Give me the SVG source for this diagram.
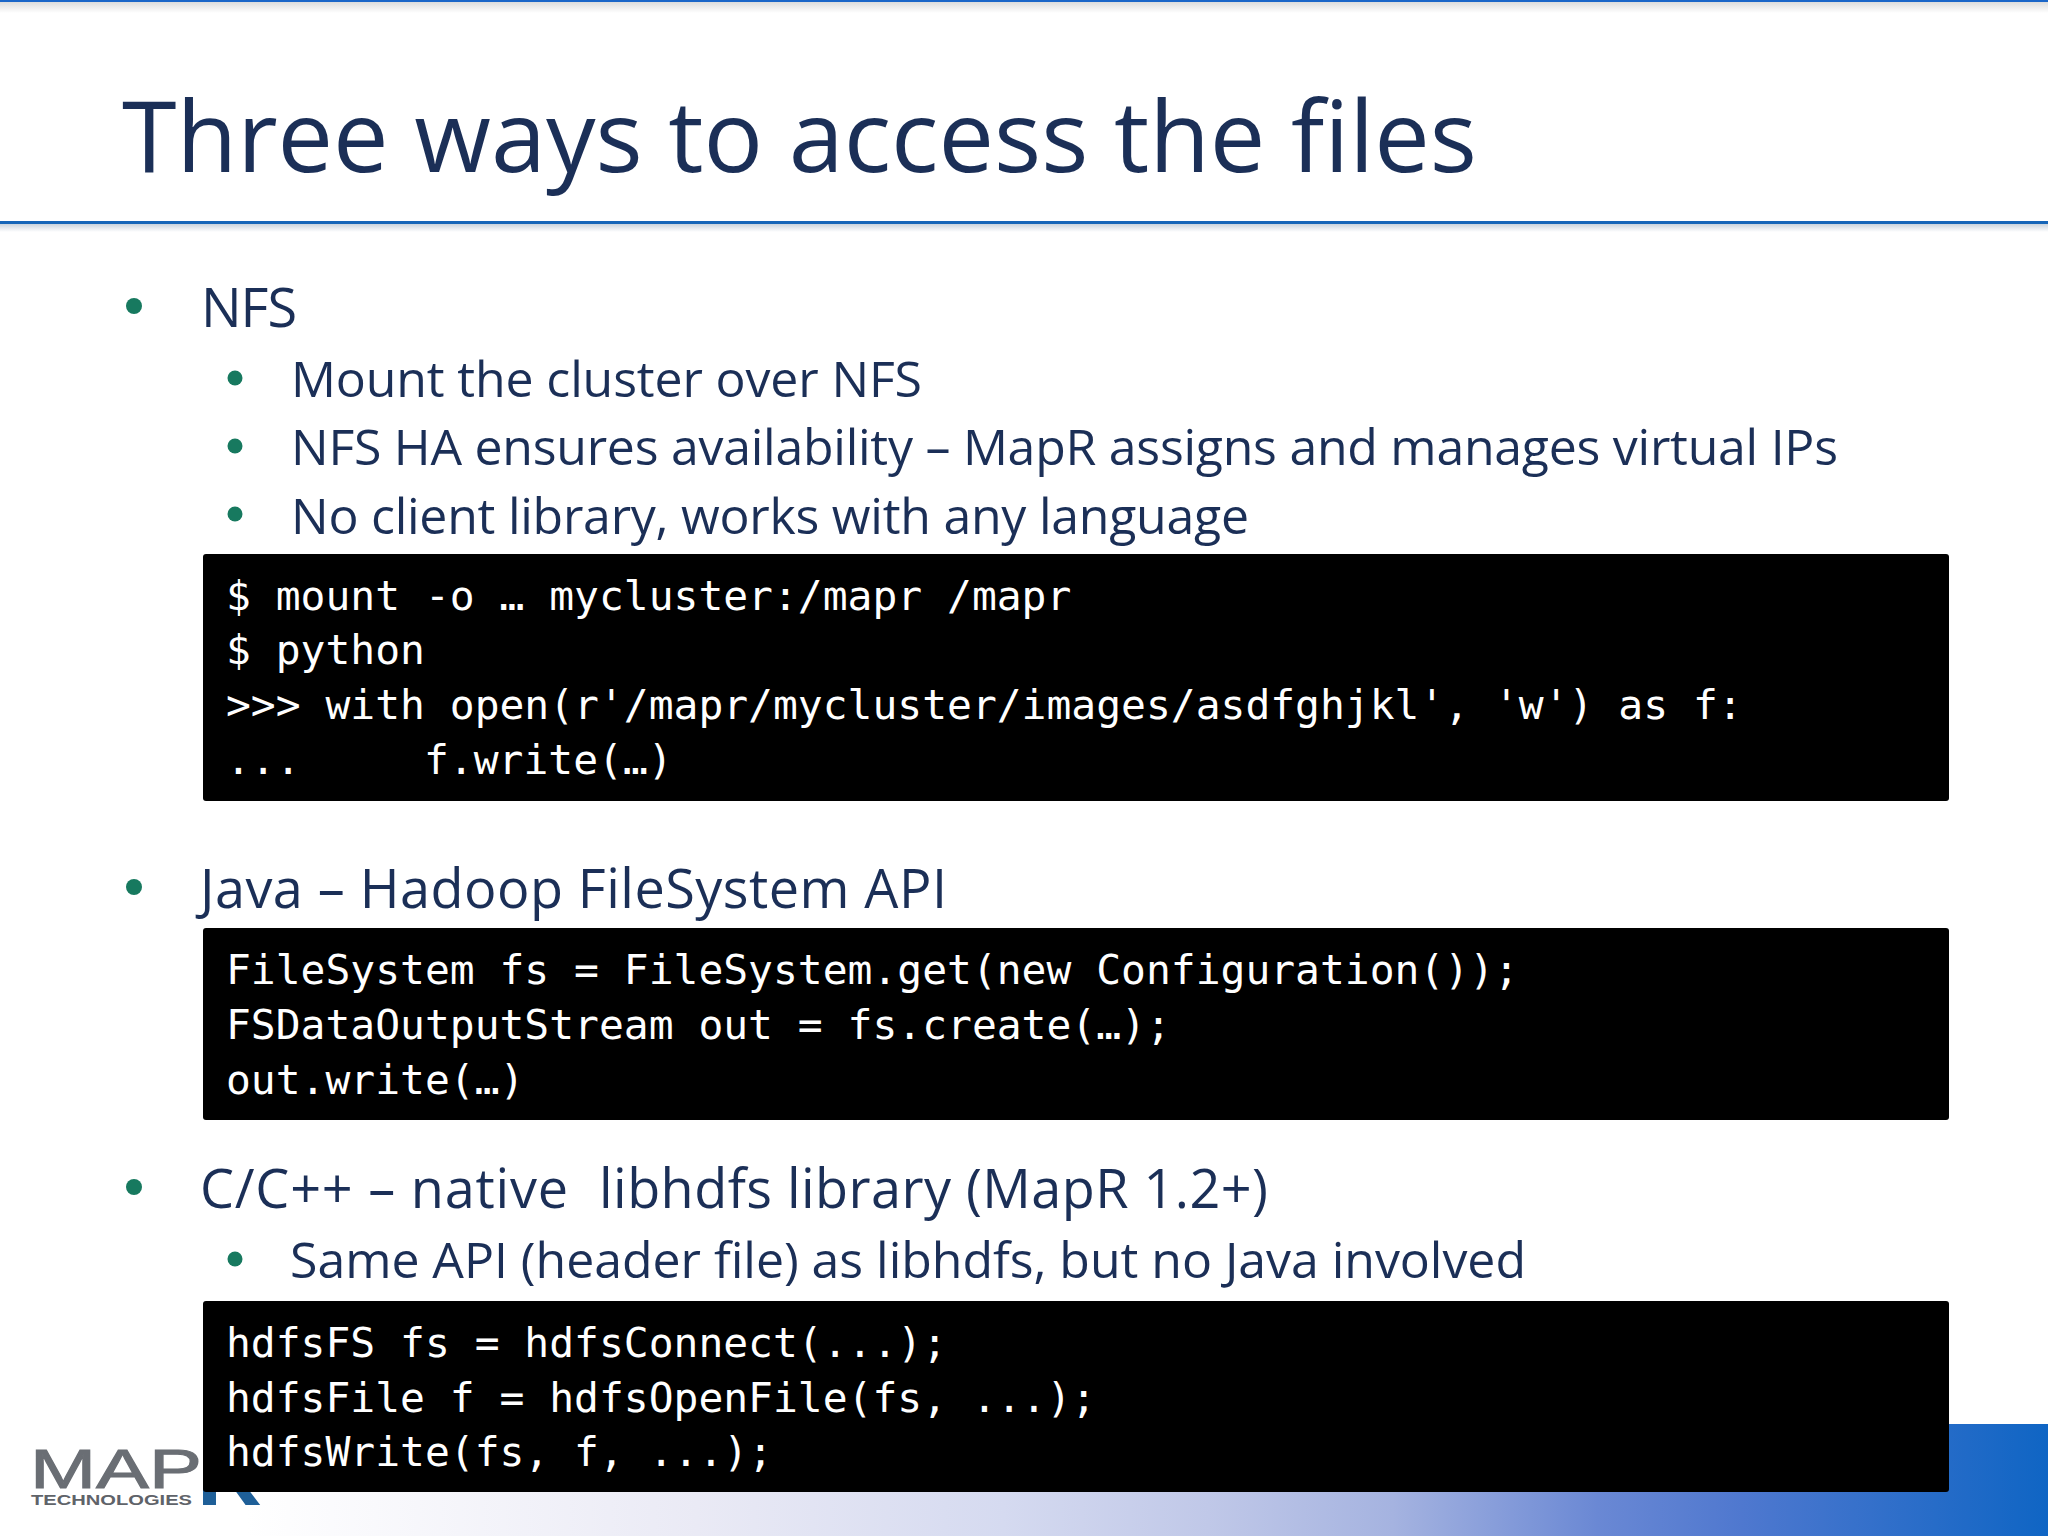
<svg xmlns="http://www.w3.org/2000/svg" width="2048" height="1536" viewBox="0 0 2048 1536">
<defs><linearGradient id="g" x1="0" x2="1" y1="0" y2="0"><stop offset="0" stop-color="#fff"/><stop offset="0.12" stop-color="#fff"/><stop offset="0.34" stop-color="#eaeaf5"/><stop offset="0.49" stop-color="#d5daf0"/><stop offset="0.59" stop-color="#c0c8e8"/><stop offset="0.68" stop-color="#a5b3e0"/><stop offset="0.78" stop-color="#6a88d4"/><stop offset="0.85" stop-color="#4f78cf"/><stop offset="1" stop-color="#0f65c4"/></linearGradient>
<linearGradient id="s" x1="0" x2="0" y1="0" y2="1"><stop offset="0" stop-color="#c9d3dd"/><stop offset="1" stop-color="#fff"/></linearGradient>
<linearGradient id="s2" x1="0" x2="0" y1="0" y2="1"><stop offset="0" stop-color="#dcdcdc"/><stop offset="1" stop-color="#fff"/></linearGradient></defs>
<style>
.t{font-family:"Open Sans","Noto Sans",sans-serif;fill:#1b2f57}
.b{fill:#17795f}
.l1{font-size:54px}.l2{font-size:50px}
.c{font-family:"DejaVu Sans Mono","Liberation Mono",monospace;font-size:41.3px;fill:#fff}
</style>
<rect width="2048" height="1536" fill="#fff"/>
<rect x="0" y="2" width="2048" height="11" fill="url(#s2)"/>
<rect x="0" y="0" width="2048" height="2" fill="#1a66c8"/>
<rect x="0" y="224" width="2048" height="8" fill="url(#s)"/>
<rect x="0" y="221" width="2048" height="3" fill="#1565b8"/>
<rect x="0" y="1424" width="2048" height="112" fill="url(#g)"/>
<text class="t" x="122" y="172" font-size="99" textLength="1355" font-weight="500">Three ways to access the files</text>
<g class="b"><circle cx="134" cy="306" r="8"/><circle cx="235" cy="378" r="7.5"/><circle cx="235" cy="446" r="7.5"/><circle cx="235" cy="514" r="7.5"/><circle cx="134" cy="887" r="8"/><circle cx="134" cy="1187" r="8"/><circle cx="235" cy="1259" r="7.5"/></g>
<text class="t l1" x="201" y="327" textLength="96">NFS</text>
<text class="t l2" x="291" y="397" textLength="631">Mount the cluster over NFS</text>
<text class="t l2" x="291" y="465" textLength="1547">NFS HA ensures availability – MapR assigns and manages virtual IPs</text>
<text class="t l2" x="291" y="534" textLength="958">No client library, works with any language</text>
<text class="t l1" x="200" y="908" textLength="747">Java – Hadoop FileSystem API</text>
<text class="t l1" x="200" y="1208" textLength="368">C/C++ – native</text>
<text class="t l1" x="599" y="1208" textLength="669">libhdfs library (MapR 1.2+)</text>
<text class="t l2" x="290" y="1278" textLength="1236">Same API (header file) as libhdfs, but no Java involved</text>
<g id="logo"><text x="30" y="1488" font-family="Liberation Sans,sans-serif" font-size="56" fill="#6a6e74" stroke="#6a6e74" stroke-width="1" textLength="172" lengthAdjust="spacingAndGlyphs">MAP</text><text x="197" y="1505" font-family="Liberation Sans,sans-serif" font-weight="700" font-size="76" fill="#1e5f98" textLength="65" lengthAdjust="spacingAndGlyphs">R</text><text x="31" y="1505" font-family="Liberation Sans,sans-serif" font-weight="700" font-size="15" fill="#5f6369" textLength="161" lengthAdjust="spacingAndGlyphs">TECHNOLOGIES</text></g>
<rect x="203" y="554" width="1746" height="247" rx="3" fill="#000"/>
<rect x="203" y="928" width="1746" height="192" rx="3" fill="#000"/>
<rect x="203" y="1301" width="1746" height="191" rx="3" fill="#000"/>
<g class="c">
<text x="226" y="610">$ mount -o … mycluster:/mapr /mapr</text>
<text x="226" y="664">$ python</text>
<text x="226" y="719">&gt;&gt;&gt; with open(r'/mapr/mycluster/images/asdfghjkl', 'w') as f:</text>
<text x="226" y="774">...</text>
<text x="424" y="774">f.write(…)</text>
<text x="226" y="984">FileSystem fs = FileSystem.get(new Configuration());</text>
<text x="226" y="1039">FSDataOutputStream out = fs.create(…);</text>
<text x="226" y="1094">out.write(…)</text>
<text x="226" y="1357">hdfsFS fs = hdfsConnect(...);</text>
<text x="226" y="1412">hdfsFile f = hdfsOpenFile(fs, ...);</text>
<text x="226" y="1466">hdfsWrite(fs, f, ...);</text>
</g>
</svg>
